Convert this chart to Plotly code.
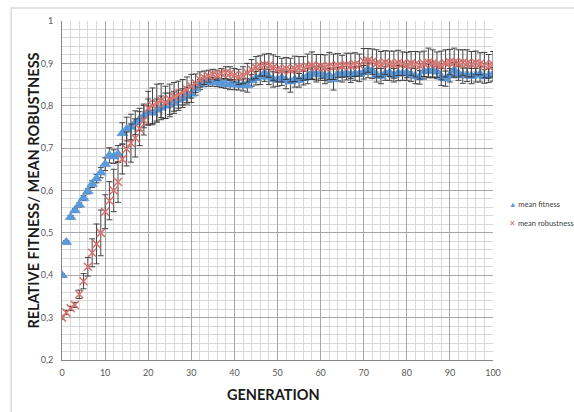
import plotly.graph_objects as go

generation = list(range(0, 101))

mean_fitness = [
    0.400, 0.478, 0.537, 0.553, 0.566, 0.582, 0.598, 0.615, 0.628, 0.642,
    0.662, 0.683, 0.680, 0.686, 0.735, 0.745, 0.750, 0.760, 0.768, 0.776,
    0.786, 0.783, 0.790, 0.795, 0.800, 0.802, 0.808, 0.813, 0.818, 0.824,
    0.828, 0.840, 0.850, 0.855, 0.856, 0.856, 0.855, 0.853, 0.851, 0.850,
    0.850, 0.849, 0.849, 0.848, 0.860, 0.865, 0.868, 0.877, 0.868, 0.862,
    0.862, 0.866, 0.860, 0.857, 0.862, 0.860, 0.865, 0.870, 0.878, 0.874,
    0.876, 0.870, 0.872, 0.862, 0.875, 0.874, 0.877, 0.873, 0.876, 0.875,
    0.879, 0.886, 0.882, 0.872, 0.870, 0.876, 0.878, 0.872, 0.877, 0.876,
    0.878, 0.873, 0.870, 0.867, 0.881, 0.882, 0.884, 0.880, 0.868, 0.864,
    0.872, 0.884, 0.876, 0.871, 0.873, 0.870, 0.872, 0.874, 0.869, 0.871,
    0.874,
]

fitness_err = [
    0.004, 0.004, 0.004, 0.004, 0.005, 0.006, 0.006, 0.008, 0.010, 0.012,
    0.015, 0.018, 0.016, 0.020, 0.025, 0.028, 0.030, 0.028, 0.026, 0.028,
    0.030, 0.028, 0.026, 0.028, 0.030, 0.028, 0.026, 0.024, 0.022, 0.020,
    0.020, 0.015, 0.012, 0.010, 0.010, 0.010, 0.010, 0.010, 0.010, 0.012,
    0.012, 0.012, 0.014, 0.016, 0.014, 0.016, 0.018, 0.020, 0.018, 0.018,
    0.016, 0.018, 0.020, 0.025, 0.018, 0.016, 0.016, 0.018, 0.016, 0.018,
    0.016, 0.018, 0.016, 0.025, 0.016, 0.018, 0.016, 0.018, 0.016, 0.018,
    0.016, 0.020, 0.018, 0.016, 0.018, 0.016, 0.018, 0.016, 0.018, 0.016,
    0.018, 0.016, 0.018, 0.016, 0.018, 0.016, 0.018, 0.016, 0.020, 0.018,
    0.016, 0.018, 0.016, 0.018, 0.016, 0.018, 0.016, 0.018, 0.016, 0.016,
    0.016,
]

mean_robustness = [
    0.300, 0.312, 0.322, 0.330, 0.355, 0.386, 0.420, 0.453, 0.474, 0.500,
    0.550, 0.576, 0.600, 0.620, 0.674, 0.698, 0.712, 0.724, 0.746, 0.766,
    0.794, 0.800, 0.806, 0.812, 0.808, 0.815, 0.821, 0.826, 0.832, 0.838,
    0.846, 0.853, 0.862, 0.866, 0.870, 0.874, 0.872, 0.876, 0.878, 0.876,
    0.872, 0.868, 0.872, 0.878, 0.885, 0.890, 0.894, 0.896, 0.895, 0.890,
    0.886, 0.884, 0.888, 0.884, 0.887, 0.890, 0.888, 0.892, 0.895, 0.891,
    0.893, 0.890, 0.894, 0.892, 0.895, 0.893, 0.896, 0.894, 0.897, 0.896,
    0.905, 0.907, 0.904, 0.900, 0.898, 0.902, 0.899, 0.897, 0.901, 0.899,
    0.896, 0.900, 0.898, 0.895, 0.899, 0.902, 0.900, 0.897, 0.895, 0.900,
    0.903, 0.902, 0.900, 0.902, 0.900, 0.898, 0.901, 0.899, 0.896, 0.893,
    0.898,
]

robustness_err = [
    0.004, 0.005, 0.005, 0.006, 0.010, 0.018, 0.022, 0.033, 0.047, 0.054,
    0.040, 0.045, 0.050, 0.048, 0.035, 0.040, 0.045, 0.045, 0.040, 0.035,
    0.040, 0.042, 0.045, 0.040, 0.038, 0.036, 0.034, 0.032, 0.030, 0.030,
    0.028, 0.022, 0.018, 0.016, 0.014, 0.012, 0.012, 0.012, 0.014, 0.016,
    0.016, 0.018, 0.020, 0.022, 0.024, 0.026, 0.024, 0.026, 0.028, 0.030,
    0.030, 0.028, 0.026, 0.028, 0.030, 0.026, 0.028, 0.030, 0.032, 0.030,
    0.028, 0.030, 0.032, 0.030, 0.028, 0.026, 0.028, 0.030, 0.028, 0.026,
    0.030, 0.028, 0.030, 0.032, 0.030, 0.028, 0.030, 0.032, 0.030, 0.028,
    0.030, 0.028, 0.030, 0.032, 0.030, 0.034, 0.032, 0.030, 0.034, 0.032,
    0.030, 0.034, 0.032, 0.030, 0.032, 0.030, 0.028, 0.026, 0.030, 0.028,
    0.030,
]

series_names = ["mean fitness", "mean robustness"]
series_colors = ["#5b9bdc", "#d9726e"]
legend_symbols = ["▲", "✕"]

y_tickvals = [0.2, 0.3, 0.4, 0.5, 0.6, 0.7, 0.8, 0.9, 1.0]
y_ticktext = ["0,2", "0,3", "0,4", "0,5", "0,6", "0,7", "0,8", "0,9", "1"]
x_tickvals = [0, 10, 20, 30, 40, 50, 60, 70, 80, 90, 100]

fig = go.Figure()

fig.add_trace(go.Scatter(
    x=generation, y=mean_fitness, mode="markers", name=series_names[0],
    marker=dict(symbol="triangle-up", size=9.5, color=series_colors[0],
                line=dict(color="#4a86c8", width=0.5)),
    error_y=dict(type="data", array=fitness_err, visible=True,
                 color="#333333", thickness=0.9, width=3),
    showlegend=False,
))

fig.add_trace(go.Scatter(
    x=generation, y=mean_robustness, mode="markers", name=series_names[1],
    marker=dict(symbol="x-thin", size=8, color=series_colors[1],
                line=dict(color=series_colors[1], width=1.5)),
    error_y=dict(type="data", array=robustness_err, visible=True,
                 color="#333333", thickness=0.9, width=3),
    showlegend=False,
))

tick_font = dict(family="Lato, Liberation Sans, sans-serif", size=9, color="#595959")

legend_annotations = []
for i, (nm, col, sym) in enumerate(zip(series_names, series_colors, legend_symbols)):
    legend_annotations.append(dict(
        text=f"<span style='color:{col}'>{sym}</span> {nm}",
        xref="paper", yref="paper", x=1.032, y=0.46 - i * 0.057,
        xanchor="left", yanchor="middle", showarrow=False,
        width=66, align="left",
        font=dict(family="Lato, Liberation Sans, sans-serif", size=7.5, color="#404040"),
    ))

fig.update_layout(
    width=574, height=412,
    margin=dict(l=62, r=81, t=21, b=52, autoexpand=False),
    paper_bgcolor="white", plot_bgcolor="white",
    showlegend=False,
    xaxis=dict(range=[0, 100], tickvals=x_tickvals, tickfont=tick_font,
               showgrid=True, gridcolor="#a6a6a6", gridwidth=1,
               minor=dict(dtick=2, showgrid=True, gridcolor="#d9d9d9", gridwidth=1),
               showline=True, linecolor="#868686", linewidth=1,
               zeroline=False, ticks="", ticklabelstandoff=4),
    yaxis=dict(range=[0.2, 1.0], tickvals=y_tickvals, ticktext=y_ticktext,
               tickfont=tick_font,
               showgrid=True, gridcolor="#a6a6a6", gridwidth=1,
               minor=dict(dtick=0.02, showgrid=True, gridcolor="#d9d9d9", gridwidth=1),
               showline=True, linecolor="#868686", linewidth=1,
               zeroline=False, ticks="", ticklabelstandoff=6),
    annotations=[
        dict(text="<b>GENERATION</b>", xref="paper", yref="paper",
             x=0.49, y=-0.07, xanchor="center", yanchor="top", showarrow=False,
             font=dict(family="Lato, Open Sans, sans-serif", size=14.5, color="#1a1a1a")),
        dict(text="<b>RELATIVE FITNESS/ MEAN ROBUSTNESS</b>", xref="paper", yref="paper",
             x=-0.067, y=0.50, xanchor="center", yanchor="middle", showarrow=False,
             textangle=-90,
             font=dict(family="Lato, Open Sans, sans-serif", size=14.5, color="#1a1a1a")),
    ] + legend_annotations,
    shapes=[
        dict(type="rect", xref="paper", yref="paper",
             x0=-0.118, x1=1.4, y0=-0.3, y1=1.038,
             line=dict(color="#d9d9d9", width=1.5), fillcolor="rgba(0,0,0,0)",
             layer="below"),
    ],
)

fig.write_html("out.html")
